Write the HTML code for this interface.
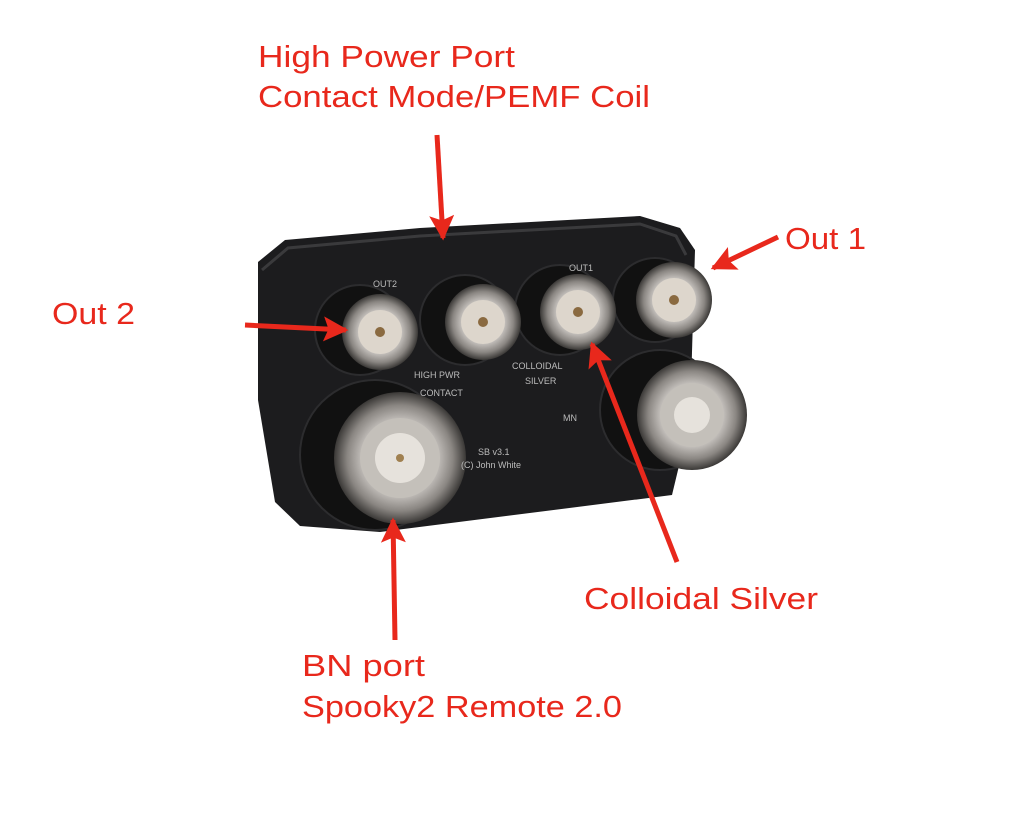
<!DOCTYPE html>
<html><head><meta charset="utf-8"><style>
html,body{margin:0;padding:0;background:#fff;width:1015px;height:814px;overflow:hidden}
text{font-family:"Liberation Sans",sans-serif;fill:#e8281c;font-size:31px}
</style></head><body>
<svg width="1015" height="814" viewBox="0 0 1015 814" xmlns="http://www.w3.org/2000/svg">
<defs>
<radialGradient id="met" cx="50%" cy="50%" r="50%">
<stop offset="0" stop-color="#eee"/><stop offset="0.55" stop-color="#c8c4c0"/><stop offset="0.8" stop-color="#8a8682"/><stop offset="1" stop-color="#3a3836"/>
</radialGradient>
<marker id="ah" viewBox="0 0 10 10" refX="9" refY="5" markerWidth="6" markerHeight="5" orient="auto" markerUnits="strokeWidth">
<path d="M0,0 L10,5 L0,10 L2,5 z" fill="#e8281c"/></marker>
</defs>
<path d="M258,262 L285,240 L420,228 L640,216 L680,228 L695,250 L690,420 L672,495 L380,532 L300,526 L275,502 L258,400 Z" fill="#1c1c1e"/>
<path d="M262,270 L288,248 L420,236 L640,224 L676,236 L686,255" fill="none" stroke="#3a3a3c" stroke-width="3"/>
<g fill="#111" stroke="#2c2c2e" stroke-width="2">
<circle cx="360" cy="330" r="45"/><circle cx="465" cy="320" r="45"/><circle cx="560" cy="310" r="45"/><circle cx="655" cy="300" r="42"/>
<circle cx="375" cy="455" r="75"/><circle cx="660" cy="410" r="60"/>
</g>
<g>
<circle cx="380" cy="332" r="38" fill="url(#met)"/><circle cx="380" cy="332" r="22" fill="#ddd6cc"/><circle cx="380" cy="332" r="5" fill="#8a6a40"/>
<circle cx="483" cy="322" r="38" fill="url(#met)"/><circle cx="483" cy="322" r="22" fill="#ddd6cc"/><circle cx="483" cy="322" r="5" fill="#8a6a40"/>
<circle cx="578" cy="312" r="38" fill="url(#met)"/><circle cx="578" cy="312" r="22" fill="#ddd6cc"/><circle cx="578" cy="312" r="5" fill="#8a6a40"/>
<circle cx="674" cy="300" r="38" fill="url(#met)"/><circle cx="674" cy="300" r="22" fill="#ddd6cc"/><circle cx="674" cy="300" r="5" fill="#8a6a40"/>
<circle cx="400" cy="458" r="66" fill="url(#met)"/><circle cx="400" cy="458" r="40" fill="#c4c0ba"/><circle cx="400" cy="458" r="25" fill="#e6e2dc"/><circle cx="400" cy="458" r="4" fill="#a08050"/>
<circle cx="692" cy="415" r="55" fill="url(#met)"/><circle cx="692" cy="415" r="32" fill="#c4c0ba"/><circle cx="692" cy="415" r="18" fill="#e6e2dc"/>
</g>
<g>
<text x="373" y="287" style="fill:#bbb;font-size:9px">OUT2</text>
<text x="569" y="271" style="fill:#bbb;font-size:9px">OUT1</text>
<text x="414" y="378" style="fill:#bbb;font-size:9px">HIGH PWR</text>
<text x="420" y="396" style="fill:#bbb;font-size:9px">CONTACT</text>
<text x="512" y="369" style="fill:#bbb;font-size:9px">COLLOIDAL</text>
<text x="525" y="384" style="fill:#bbb;font-size:9px">SILVER</text>
<text x="478" y="455" style="fill:#bbb;font-size:9px">SB v3.1</text>
<text x="461" y="468" style="fill:#bbb;font-size:9px">(C) John White</text>
<text x="563" y="421" style="fill:#bbb;font-size:9px">MN</text>
</g>
<g stroke="#e8281c" stroke-width="5" fill="none" marker-end="url(#ah)">
<line x1="437" y1="135" x2="443" y2="238"/>
<line x1="778" y1="237" x2="713" y2="268"/>
<line x1="245" y1="325" x2="346" y2="330"/>
<line x1="677" y1="562" x2="592" y2="344"/>
<line x1="395" y1="640" x2="393" y2="520"/>
</g>
<text x="258" y="67" textLength="257" lengthAdjust="spacingAndGlyphs">High Power Port</text>
<text x="258" y="107" textLength="392" lengthAdjust="spacingAndGlyphs">Contact Mode/PEMF Coil</text>
<text x="785" y="249" textLength="81" lengthAdjust="spacingAndGlyphs">Out 1</text>
<text x="52" y="324" textLength="83" lengthAdjust="spacingAndGlyphs">Out 2</text>
<text x="584" y="609" textLength="234" lengthAdjust="spacingAndGlyphs">Colloidal Silver</text>
<text x="302" y="676" textLength="123" lengthAdjust="spacingAndGlyphs">BN port</text>
<text x="302" y="717" textLength="320" lengthAdjust="spacingAndGlyphs">Spooky2 Remote 2.0</text>
</svg>
</body></html>
